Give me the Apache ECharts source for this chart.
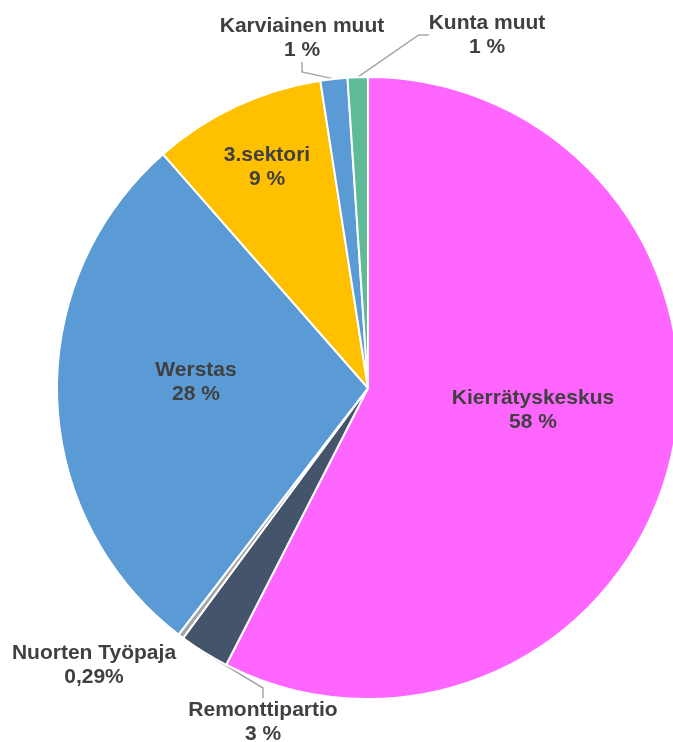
<!DOCTYPE html>
<html>
<head>
<meta charset="utf-8">
<style>
    html, body { margin: 0; padding: 0; background: #fff; }
    #chart { width: 673px; height: 742px; }
</style>
</head>
<body>
<div id="chart"></div>
<script src="https://cdn.jsdelivr.net/npm/echarts@6/dist/echarts.min.js"></script>
<script>
    // slices, clockwise from 12 o'clock
    var names = ['Kierrätyskeskus', 'Remonttipartio', 'Nuorten Työpaja', 'Werstas', '3.sektori', 'Karviainen muut', 'Kunta muut'];
    var values = [57.5, 2.6, 0.29, 28.1, 9.0, 1.4, 1.05];
    var pctText = ['58 %', '3 %', '0,29%', '28 %', '9 %', '1 %', '1 %'];
    var colors = ['#FF66FF', '#44546A', '#A5A5A5', '#5B9BD5', '#FFC000', '#5B9BD5', '#5FBB97'];

    // label centres (Excel "best fit" placement)
    var labelPos = [[533, 410], [263, 722], [94, 665], [196, 382], [267, 167], [302, 38], [487, 35]];
    var outside = [false, true, true, false, false, true, true];

    var chart = echarts.init(document.getElementById('chart'));

    var data = names.map(function (n, i) {
        return {
            name: n,
            value: values[i],
            itemStyle: { color: colors[i] },
            label: { position: outside[i] ? 'outside' : 'inside' },
            labelLine: { show: outside[i] && i !== 2 }
        };
    });

    chart.setOption({
        animation: false,
        series: [{
            type: 'pie',
            center: [368, 388],
            radius: 311,
            startAngle: 90,
            clockwise: true,
            avoidLabelOverlap: false,
            itemStyle: { borderColor: '#fff', borderWidth: 2 },
            label: {
                show: true,
                color: '#404040',
                fontFamily: 'Liberation Sans, Arial, sans-serif',
                fontWeight: 'bold',
                fontSize: 21,
                lineHeight: 24,
                align: 'center',
                formatter: function (p) {
                    return p.name + '\n' + pctText[p.dataIndex];
                }
            },
            labelLine: {
                lineStyle: { color: '#A6A6A6', width: 1.5 },
                length: 15,
                length2: 10
            },
            labelLayout: function (p) {
                var c = labelPos[p.dataIndex];
                return { x: c[0], y: c[1], align: 'center', verticalAlign: 'middle' };
            },
            data: data
        }]
    });
</script>
</body>
</html>
